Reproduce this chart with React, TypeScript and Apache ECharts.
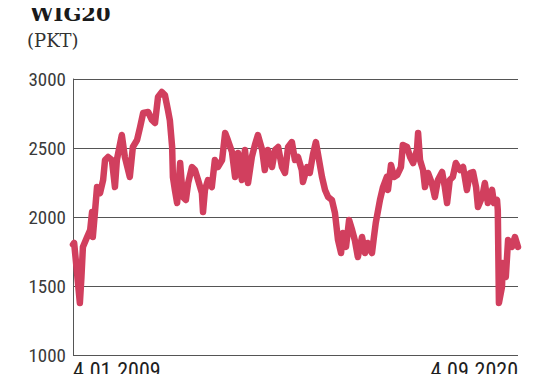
import React, { useEffect, useRef } from "react";
import * as echarts from "echarts";

const title = "WIG20";
const unit = "(PKT)";
const xLabels = ["4.01.2009", "4.09.2020"];
const yTicks = [1000, 1500, 2000, 2500, 3000];
const xMin = 2009.01;
const xMax = 2020.68;

// decimal year of each observation
const years = [
  2009.01, 2009.04, 2009.1, 2009.19, 2009.23, 2009.27, 2009.38, 2009.46, 2009.51, 2009.53, 2009.59,
  2009.64, 2009.72, 2009.8, 2009.85, 2009.93, 2010.03, 2010.11, 2010.16, 2010.29, 2010.37,
  2010.5, 2010.58, 2010.69, 2010.77, 2010.85, 2010.98, 2011.08, 2011.16, 2011.24, 2011.34,
  2011.42, 2011.5, 2011.55, 2011.61, 2011.63, 2011.68, 2011.74, 2011.82, 2011.89, 2011.97,
  2012.03, 2012.13, 2012.21, 2012.29, 2012.39, 2012.42, 2012.47, 2012.55, 2012.65, 2012.73,
  2012.81, 2012.92, 2013.0, 2013.07, 2013.18, 2013.26, 2013.34, 2013.44, 2013.52, 2013.6,
  2013.7, 2013.78, 2013.86, 2013.97, 2014.04, 2014.12, 2014.23, 2014.31, 2014.39, 2014.49,
  2014.57, 2014.65, 2014.75, 2014.83, 2014.91, 2015.01, 2015.04, 2015.15, 2015.22, 2015.3,
  2015.38, 2015.43, 2015.54, 2015.62, 2015.7, 2015.8, 2015.88, 2015.96, 2016.04, 2016.09,
  2016.17, 2016.25, 2016.33, 2016.4, 2016.48, 2016.59, 2016.67, 2016.74, 2016.85, 2016.9,
  2016.95, 2017.06, 2017.14, 2017.24, 2017.27, 2017.35, 2017.43, 2017.51, 2017.61, 2017.66,
  2017.77, 2017.85, 2017.93, 2018.03, 2018.06, 2018.11, 2018.19, 2018.24, 2018.32, 2018.42,
  2018.5, 2018.58, 2018.69, 2018.76, 2018.82, 2018.89, 2018.97, 2019.05, 2019.16, 2019.24,
  2019.34, 2019.42, 2019.5, 2019.58, 2019.63, 2019.74, 2019.81, 2019.89, 2020.0, 2020.05,
  2020.13, 2020.15, 2020.18, 2020.26, 2020.28, 2020.36, 2020.42, 2020.52, 2020.6, 2020.68,
];

// WIG20 closing level (points)
const values = [
  1800, 1812, 1640, 1377, 1560, 1783, 1855, 1906, 2036, 1855, 2050,
  2217, 2174, 2268, 2413, 2435, 2413, 2217, 2413, 2594, 2435,
  2290, 2507, 2558, 2652, 2754, 2761, 2703, 2681, 2870, 2906,
  2884, 2775, 2700, 2507, 2290, 2200, 2101, 2391, 2145, 2123,
  2246, 2362, 2340, 2268, 2174, 2036, 2196, 2268, 2217, 2413,
  2362, 2413, 2609, 2558, 2471, 2290, 2464, 2268, 2486, 2246,
  2435, 2522, 2594, 2486, 2340, 2486, 2362, 2486, 2507, 2362,
  2319, 2507, 2543, 2413, 2435, 2340, 2254, 2362, 2319, 2449,
  2543, 2464, 2290, 2196, 2145, 2123, 2029, 1833, 1739, 1884,
  1783, 1978, 1906, 1833, 1710, 1855, 1739, 1812, 1739, 1850,
  1957, 2123, 2217, 2290, 2196, 2377, 2290, 2304, 2362, 2522,
  2507, 2435, 2391, 2486, 2609, 2413, 2340, 2217, 2319, 2246,
  2145, 2268, 2326, 2217, 2101, 2268, 2290, 2391, 2340, 2362,
  2196, 2319, 2326, 2217, 2072, 2145, 2246, 2101, 2196, 2101,
  2123, 2051, 1377, 1493, 1667, 1565, 1833, 1783, 1855, 1783,
];

const narrow = "'Liberation Sans Narrow', 'Roboto Condensed', Roboto, sans-serif";

export default function App() {
  const ref = useRef<HTMLDivElement>(null);
  useEffect(() => {
    if (!ref.current) return;
    const chart = echarts.init(ref.current, null, { renderer: "svg" });
    const data = years.map((y, i) => [y, values[i]]);
    chart.setOption({
      animation: false,
      backgroundColor: "#ffffff",
      grid: { left: 73, right: 18, top: 79, bottom: 27, containLabel: false },
      xAxis: {
        type: "value",
        min: xMin,
        max: xMax,
        axisLine: { show: false },
        axisTick: { show: false },
        axisLabel: { show: false },
        splitLine: { show: false },
      },
      yAxis: {
        type: "value",
        min: yTicks[0],
        max: yTicks[yTicks.length - 1],
        interval: 500,
        axisLine: { show: true, lineStyle: { color: "#555555", width: 1 } },
        axisTick: { show: false },
        axisLabel: {
          color: "#3a3a3a",
          fontSize: 19,
          fontFamily: narrow,
          margin: 7,
          formatter: (v: number) => String(v),
        },
        splitLine: { show: true, lineStyle: { color: "#555555", width: 1 } },
      },
      series: [
        {
          type: "line",
          data,
          showSymbol: false,
          symbol: "none",
          lineStyle: { color: "#d13f5e", width: 6.5, join: "round", cap: "round" },
          z: 3,
        },
      ],
      graphic: [
        {
          type: "text",
          x: 30,
          y: 13,
          style: {
            text: title,
            fontFamily: "DejaVu Serif",
            fontWeight: "bold",
            fontSize: 21,
            fill: "#1a1a1a",
            verticalAlign: "middle",
          },
        },
        {
          type: "text",
          x: 27,
          y: 40,
          style: {
            text: unit,
            fontFamily: "DejaVu Serif",
            fontSize: 18,
            fill: "#333333",
            verticalAlign: "middle",
          },
        },
        {
          type: "text",
          x: 73,
          y: 370,
          style: {
            text: xLabels[0],
            fontFamily: narrow,
            fontSize: 22,
            fill: "#1e1e1e",
            align: "left",
            verticalAlign: "middle",
          },
        },
        {
          type: "text",
          x: 518,
          y: 370,
          style: {
            text: xLabels[1],
            fontFamily: narrow,
            fontSize: 22,
            fill: "#1e1e1e",
            align: "right",
            verticalAlign: "middle",
          },
        },
      ],
    });
    return () => chart.dispose();
  }, []);
  return <div ref={ref} style={{ width: 536, height: 382, margin: -8 }} />;
}
